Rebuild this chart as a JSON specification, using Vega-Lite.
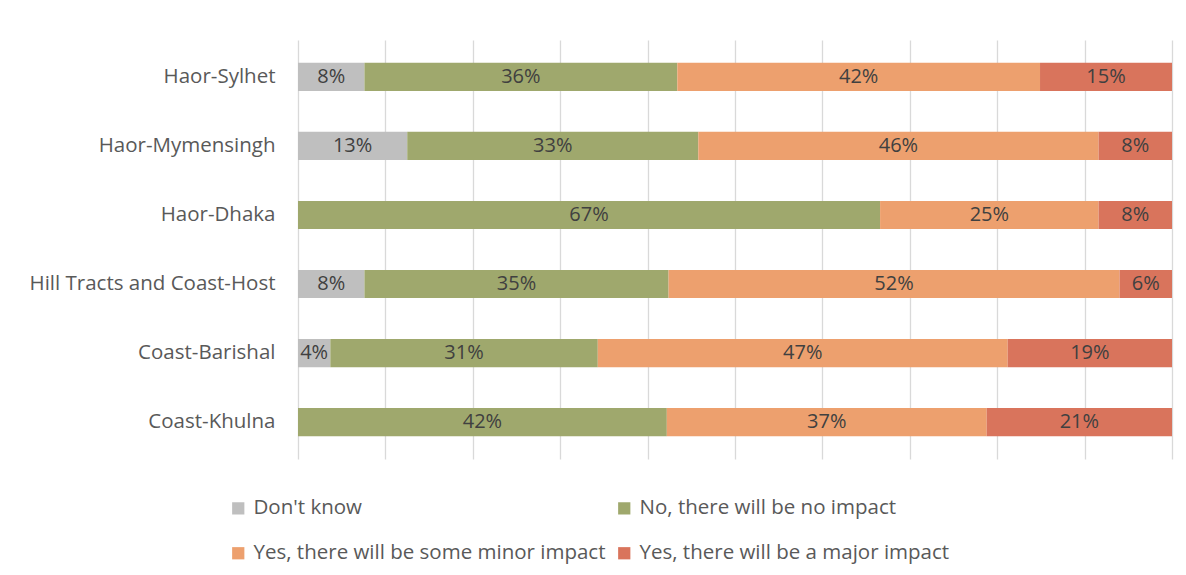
{
  "$schema": "https://vega.github.io/schema/vega-lite/v6.json",
  "autosize": {"type": "none"},
  "width": 874,
  "height": 419,
  "padding": {"left": 298, "top": 40, "right": 14, "bottom": 116},
  "background": "white",
  "data": {
    "values": [
      {"region": "Haor-Sylhet", "answer": "Don't know", "o": 1, "value": 7.6, "label": "8%"},
      {"region": "Haor-Sylhet", "answer": "No, there will be no impact", "o": 2, "value": 35.8, "label": "36%"},
      {"region": "Haor-Sylhet", "answer": "Yes, there will be some minor impact", "o": 3, "value": 41.5, "label": "42%"},
      {"region": "Haor-Sylhet", "answer": "Yes, there will be a major impact", "o": 4, "value": 15.1, "label": "15%"},
      {"region": "Haor-Mymensingh", "answer": "Don't know", "o": 1, "value": 12.5, "label": "13%"},
      {"region": "Haor-Mymensingh", "answer": "No, there will be no impact", "o": 2, "value": 33.3, "label": "33%"},
      {"region": "Haor-Mymensingh", "answer": "Yes, there will be some minor impact", "o": 3, "value": 45.8, "label": "46%"},
      {"region": "Haor-Mymensingh", "answer": "Yes, there will be a major impact", "o": 4, "value": 8.4, "label": "8%"},
      {"region": "Haor-Dhaka", "answer": "No, there will be no impact", "o": 2, "value": 66.6, "label": "67%"},
      {"region": "Haor-Dhaka", "answer": "Yes, there will be some minor impact", "o": 3, "value": 25.0, "label": "25%"},
      {"region": "Haor-Dhaka", "answer": "Yes, there will be a major impact", "o": 4, "value": 8.4, "label": "8%"},
      {"region": "Hill Tracts and Coast-Host", "answer": "Don't know", "o": 1, "value": 7.6, "label": "8%"},
      {"region": "Hill Tracts and Coast-Host", "answer": "No, there will be no impact", "o": 2, "value": 34.8, "label": "35%"},
      {"region": "Hill Tracts and Coast-Host", "answer": "Yes, there will be some minor impact", "o": 3, "value": 51.6, "label": "52%"},
      {"region": "Hill Tracts and Coast-Host", "answer": "Yes, there will be a major impact", "o": 4, "value": 6.0, "label": "6%"},
      {"region": "Coast-Barishal", "answer": "Don't know", "o": 1, "value": 3.7, "label": "4%"},
      {"region": "Coast-Barishal", "answer": "No, there will be no impact", "o": 2, "value": 30.6, "label": "31%"},
      {"region": "Coast-Barishal", "answer": "Yes, there will be some minor impact", "o": 3, "value": 46.9, "label": "47%"},
      {"region": "Coast-Barishal", "answer": "Yes, there will be a major impact", "o": 4, "value": 18.8, "label": "19%"},
      {"region": "Coast-Khulna", "answer": "No, there will be no impact", "o": 2, "value": 42.2, "label": "42%"},
      {"region": "Coast-Khulna", "answer": "Yes, there will be some minor impact", "o": 3, "value": 36.6, "label": "37%"},
      {"region": "Coast-Khulna", "answer": "Yes, there will be a major impact", "o": 4, "value": 21.2, "label": "21%"}
    ]
  },
  "encoding": {
    "y": {
      "field": "region",
      "type": "nominal",
      "sort": ["Haor-Sylhet", "Haor-Mymensingh", "Haor-Dhaka", "Hill Tracts and Coast-Host", "Coast-Barishal", "Coast-Khulna"],
      "scale": {"paddingInner": 0.593, "paddingOuter": 0.33},
      "axis": {
        "title": null,
        "domain": false,
        "ticks": false,
        "labelPadding": 23,
        "labelFont": "Open Sans",
        "labelFontSize": 20.5,
        "labelColor": "#595959",
        "labelLimit": 400
      }
    },
    "x": {
      "field": "value",
      "type": "quantitative",
      "stack": "normalize",
      "scale": {"domain": [0, 1], "nice": false},
      "axis": {
        "title": null,
        "labels": false,
        "domain": false,
        "ticks": false,
        "grid": true,
        "gridColor": "#D9D9D9",
        "gridWidth": 1.3,
        "values": [0, 0.1, 0.2, 0.3, 0.4, 0.5, 0.6, 0.7, 0.8, 0.9, 1]
      }
    },
    "order": {"field": "o", "type": "quantitative"}
  },
  "layer": [
    {
      "mark": {"type": "bar"},
      "encoding": {
        "color": {
          "field": "answer",
          "type": "nominal",
          "scale": {
            "domain": ["Don't know", "No, there will be no impact", "Yes, there will be some minor impact", "Yes, there will be a major impact"],
            "range": ["#BFBFBF", "#9FA86D", "#EDA06E", "#D9745C"]
          },
          "legend": {
            "title": null,
            "orient": "none",
            "legendX": -70,
            "legendY": 458,
            "direction": "horizontal",
            "columns": 2,
            "symbolType": "square",
            "symbolSize": 150,
            "symbolStrokeWidth": 0,
            "symbolOpacity": 1,
            "labelFont": "Open Sans",
            "labelFontSize": 20.5,
            "labelColor": "#595959",
            "rowPadding": 24,
            "columnPadding": 8,
            "labelOffset": 5,
            "labelLimit": 500
          }
        }
      }
    },
    {
      "mark": {"type": "text", "align": "center", "baseline": "middle", "font": "Open Sans", "fontSize": 20, "color": "#404040"},
      "encoding": {
        "text": {"field": "label"},
        "x": {
          "field": "value",
          "type": "quantitative",
          "stack": "normalize",
          "bandPosition": 0.5,
          "axis": {
            "title": null,
            "labels": false,
            "domain": false,
            "ticks": false,
            "grid": true,
            "gridColor": "#D9D9D9",
            "gridWidth": 1.3,
            "values": [0, 0.1, 0.2, 0.3, 0.4, 0.5, 0.6, 0.7, 0.8, 0.9, 1]
          }
        }
      }
    }
  ],
  "config": {"view": {"stroke": null}}
}
